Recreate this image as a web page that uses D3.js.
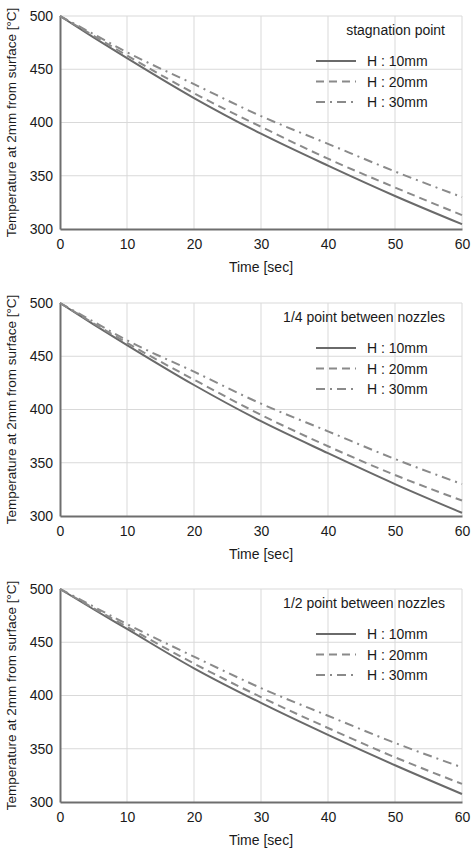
<!DOCTYPE html>
<html>
<head>
<meta charset="utf-8">
<script src="https://cdn.jsdelivr.net/npm/d3@7"></script>
<style>
  body { margin: 0; background: #fff; }
  svg { display: block; font-family: "Liberation Sans", Arial, sans-serif; }
</style>
</head>
<body>
<div id="chart"></div>
<script>
// time axis (sec)
const times = [0, 5, 10, 20, 30, 40, 50, 60];

// panel titles
const panelTitles = [`stagnation point`, `1/4 point between nozzles`, `1/2 point between nozzles`];
const seriesNames = [`H : 10mm`, `H : 20mm`, `H : 30mm`];

// temperature at 2mm from surface
const stagH10 = [500, 480, 460.5, 423, 389.5, 359.5, 331, 304.5];
const stagH20 = [500, 481.5, 463, 427.5, 396, 366, 339, 313];
const stagH30 = [500, 483, 466, 436, 406, 380, 354, 330];

const quarterH10 = [500, 480, 460.5, 423, 389, 359, 330, 303];
const quarterH20 = [500, 481, 462.5, 428, 395, 365.5, 338.5, 314.5];
const quarterH30 = [500, 482.5, 465, 435.5, 405.5, 379.5, 353.5, 330];

const halfH10 = [500, 481, 462.5, 425.5, 393, 363, 334.5, 307.5];
const halfH20 = [500, 482, 464.5, 430, 398.5, 369.5, 342, 317];
const halfH30 = [500, 483.5, 467, 436.5, 407, 381, 355.5, 332.5];

const xTicks = [0, 10, 20, 30, 40, 50, 60];
const yTicks = [300, 350, 400, 450, 500];

const panels = [
  [stagH10, stagH20, stagH30],
  [quarterH10, quarterH20, quarterH30],
  [halfH10, halfH20, halfH30],
];

const width = 474;
const height = 853;
const margin = {left: 60, right: 12};
const plotTops = [16, 303, 589];
const plotHeight = 213;
const innerWidth = width - margin.left - margin.right;

const styles = [
  {stroke: `#6a6a6a`, dash: null},
  {stroke: `#8a8a8a`, dash: `8,5`},
  {stroke: `#8a8a8a`, dash: `9,5,2,5`},
];

const svg = d3.select(`#chart`).append(`svg`)
  .attr(`width`, width)
  .attr(`height`, height);

const x = d3.scaleLinear().domain([0, 60]).range([0, innerWidth]);
const y = d3.scaleLinear().domain([300, 500]).range([plotHeight, 0]);

const line = d3.line()
  .x(d => x(d[0]))
  .y(d => y(d[1]))
  .curve(d3.curveMonotoneX);

panels.forEach((series, p) => {
  const g = svg.append(`g`)
    .attr(`transform`, `translate(${margin.left},${plotTops[p]})`);

  // grid
  g.append(`g`).selectAll(`line`)
    .data(xTicks.slice(1))
    .enter().append(`line`)
      .attr(`x1`, d => x(d)).attr(`x2`, d => x(d))
      .attr(`y1`, 0).attr(`y2`, plotHeight)
      .attr(`stroke`, `#d9d9d9`).attr(`stroke-width`, 1);

  g.append(`g`).selectAll(`line`)
    .data(yTicks.slice(1))
    .enter().append(`line`)
      .attr(`x1`, 0).attr(`x2`, innerWidth)
      .attr(`y1`, d => y(d)).attr(`y2`, d => y(d))
      .attr(`stroke`, `#d9d9d9`).attr(`stroke-width`, 1);

  // axes
  const xAxis = g.append(`g`)
    .attr(`transform`, `translate(0,${plotHeight})`)
    .call(d3.axisBottom(x).tickValues(xTicks).tickSize(0).tickPadding(10));
  const yAxis = g.append(`g`)
    .call(d3.axisLeft(y).tickValues(yTicks).tickSize(0).tickPadding(7));

  [xAxis, yAxis].forEach(a => {
    a.select(`.domain`).attr(`stroke`, `#6e6e6e`).attr(`stroke-width`, 2);
    a.selectAll(`text`).attr(`font-size`, 14).attr(`fill`, `#1a1a1a`)
      .attr(`font-family`, `"Liberation Sans", Arial, sans-serif`);
  });

  // curves
  series.forEach((vals, i) => {
    g.append(`path`)
      .datum(times.map((t, k) => [t, vals[k]]))
      .attr(`fill`, `none`)
      .attr(`stroke`, styles[i].stroke)
      .attr(`stroke-width`, 2)
      .attr(`stroke-dasharray`, styles[i].dash)
      .attr(`d`, line);
  });

  // axis titles
  g.append(`text`)
    .attr(`x`, innerWidth / 2)
    .attr(`y`, plotHeight + 43)
    .attr(`text-anchor`, `middle`)
    .attr(`font-size`, 14)
    .attr(`fill`, `#1a1a1a`)
    .text(`Time [sec]`);

  g.append(`text`)
    .attr(`transform`, `translate(${-margin.left + 16},${plotHeight / 2}) rotate(-90)`)
    .attr(`text-anchor`, `middle`)
    .attr(`font-size`, 13.5)
    .attr(`fill`, `#1a1a1a`)
    .text(`Temperature at 2mm from surface [°C]`);

  // legend
  const lg = g.append(`g`);
  lg.append(`text`)
    .attr(`x`, 385)
    .attr(`y`, 19)
    .attr(`text-anchor`, `end`)
    .attr(`font-size`, 14)
    .attr(`fill`, `#1a1a1a`)
    .text(panelTitles[p]);

  seriesNames.forEach((name, i) => {
    const ly = 45 + i * 20.5;
    lg.append(`line`)
      .attr(`x1`, 256).attr(`x2`, 296)
      .attr(`y1`, ly).attr(`y2`, ly)
      .attr(`stroke`, styles[i].stroke)
      .attr(`stroke-width`, 2)
      .attr(`stroke-dasharray`, styles[i].dash);
    lg.append(`text`)
      .attr(`x`, 307)
      .attr(`y`, ly + 5)
      .attr(`font-size`, 14)
      .attr(`fill`, `#1a1a1a`)
      .text(name);
  });
});
</script>
</body>
</html>
